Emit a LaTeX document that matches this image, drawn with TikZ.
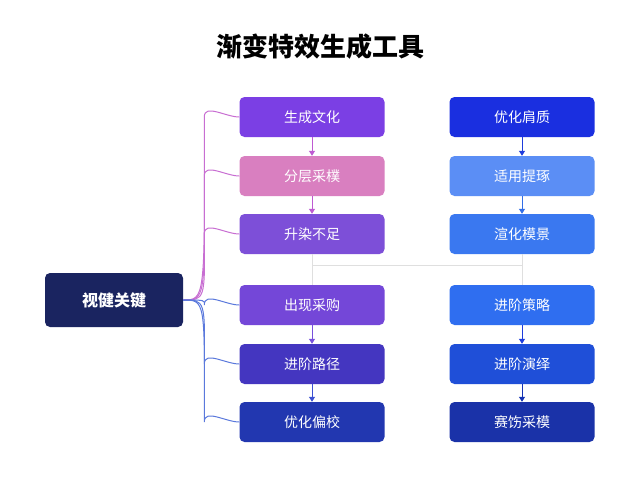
\documentclass[tikz,border=0pt]{standalone}
\usepackage{fontspec}
\newfontfamily\cjk{Noto Sans CJK SC}
\usetikzlibrary{arrows.meta}
\definecolor{kc}{RGB}{26,36,96}
\definecolor{r1}{RGB}{190,90,210}
\definecolor{r2}{RGB}{120,80,220}
\definecolor{r3}{RGB}{60,80,210}
\definecolor{r4}{RGB}{30,60,220}
\definecolor{r5}{RGB}{50,110,230}
\definecolor{r6}{RGB}{20,50,180}
\definecolor{p1}{RGB}{200,110,210}
\definecolor{p2}{RGB}{90,120,220}
\begin{document}
\begin{tikzpicture}[x=1pt,y=-1pt,
 box/.style={rectangle,rounded corners=5pt,minimum width=145pt,minimum height=40pt,text=white,font=\cjk\fontsize{14}{16}\selectfont,inner sep=0pt},
 arr/.style={-{Triangle[width=6pt,length=5pt]},line width=1pt},
 br/.style={line width=1pt}]
\useasboundingbox[fill=white] (0,0) rectangle (640,480);
\node[font=\cjk\bfseries\fontsize{26}{30}\selectfont] (t) at (320,47) {渐变特效生成工具};
\node[box,fill=kc,minimum width=138pt,minimum height=54pt,font=\cjk\bfseries\fontsize{16}{18}\selectfont] (k) at (114,300) {视健关键};
\foreach \n/\y/\c/\t in {a1/117/{123,63,228}/生成文化,a2/176/{217,127,192}/分层采樸,a3/234/{125,79,216}/升染不足,a4/305/{116,71,216}/出现采购,a5/364/{68,54,192}/进阶路径,a6/422/{34,55,176}/优化偏校}{
 \definecolor{cc}{RGB}{\c}\node[box,fill=cc] (\n) at (312,\y) {\t};}
\foreach \n/\y/\c/\t in {b1/117/{26,47,224}/优化肩质,b2/176/{91,142,245}/适用提琢,b3/234/{58,120,240}/渲化模景,b4/305/{47,110,240}/进阶策略,b5/364/{31,79,216}/进阶演绎,b6/422/{26,50,168}/赛饬采模}{
 \definecolor{cc}{RGB}{\c}\node[box,fill=cc] (\n) at (522,\y) {\t};}
\draw[gray!25,line width=1pt] (a3.south) -- (312,265) coordinate (h1) -- (522,265) coordinate (h2) -- (b3.south);
\draw[gray!25,line width=1pt] (h1) -- (a4.north); \draw[gray!25,line width=1pt] (h2) -- (b4.north);
\foreach \n/\c in {a1/p1,a2/p1,a3/p1,a4/p2,a5/p2,a6/p2}{
 \path (\n.west) coordinate (w);
 \draw[br,draw=\c] (k.east) .. controls (205,300) and (205,300) .. ([xshift=-35pt]w) to[out=90,in=180] (w);}
\draw[arr,draw=r1,fill=r1] (a1) -- (a2);
\draw[arr,draw=r1,fill=r1] (a2) -- (a3);
\draw[arr,draw=r2,fill=r2] (a4) -- (a5);
\draw[arr,draw=r3,fill=r3] (a5) -- (a6);
\draw[arr,draw=r4,fill=r4] (b1) -- (b2);
\draw[arr,draw=r5,fill=r5] (b2) -- (b3);
\draw[arr,draw=r4,fill=r4] (b4) -- (b5);
\draw[arr,draw=r6,fill=r6] (b5) -- (b6);
\end{tikzpicture}
\end{document}
